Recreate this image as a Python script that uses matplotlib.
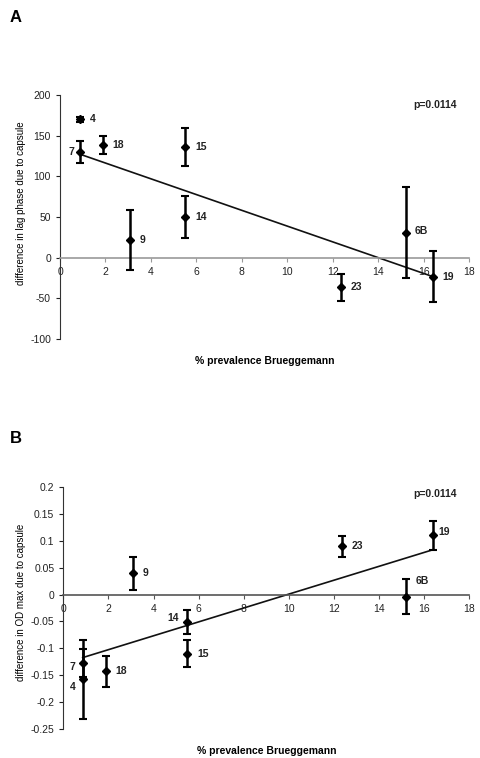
import matplotlib
matplotlib.use('Agg')
import matplotlib.pyplot as plt

plt.rcParams['font.family'] = ['Liberation Sans', 'DejaVu Sans']

# Panel A: difference in lag phase
a_labels = ['4', '7', '18', '15', '14', '9', '6B', '19', '23']
a_x = [0.87, 0.87, 1.88, 5.52, 5.52, 3.08, 15.23, 16.42, 12.38]
a_y = [170, 130.5, 138.8, 136, 49.7, 21.8, 30.8, -23.4, -36.5]
a_err = [3, 13.5, 11, 23, 26, 37, 56, 31, 17]
a_trend_x = [0.87, 16.42]
a_trend_y = [127.3, -23.4]

# Panel B: difference in OD max
b_labels = ['9', '23', '19', '6B', '14', '15', '7', '4', '18']
b_x = [3.08, 12.35, 16.38, 15.2, 5.5, 5.5, 0.86, 0.86, 1.89]
b_y = [0.039, 0.0895, 0.11, -0.004, -0.051, -0.11, -0.127, -0.157, -0.1426]
b_err = [0.03, 0.019, 0.027, 0.033, 0.023, 0.025, 0.026, 0.073, 0.029]
b_trend_x = [0.86, 16.38]
b_trend_y = [-0.117, 0.083]

# label offsets (points)
a_off = {'7': (-4, 0, 'right'), '6B': (6, 1, 'left')}
b_off = {'7': (-5, -3, 'right'), '4': (-5, -6, 'right'), '14': (-6, 3, 'right'),
         '6B': (7, 11, 'left'), '19': (4, 2, 'left')}

fig = plt.figure(figsize=(4.8, 7.58), dpi=100)


def panel(ax, xs, ys, errs, labels, tx, ty, offs, ylim, yticks, yfmt, ylabel, zero_color):
    ax.plot(tx, ty, color='#111111', lw=1.2, zorder=2)
    ax.errorbar(xs, ys, yerr=errs, fmt='D', color='black', ms=4, ecolor='black',
                elinewidth=1.8, capsize=3, capthick=1.5, zorder=3)
    for x, y, lab in zip(xs, ys, labels):
        dx, dy, ha = offs.get(lab, (7, 0, 'left'))
        ax.annotate(lab, (x, y), xytext=(dx, dy), textcoords='offset points',
                    ha=ha, va='center', fontsize=7.5, fontweight='bold', color='#222222')
    ax.set_xlim(0, 18)
    ax.set_ylim(*ylim)
    ax.set_xticks(range(0, 19, 2))
    ax.set_yticks(yticks)
    ax.set_yticklabels([yfmt(v) for v in yticks])
    ax.spines['top'].set_visible(False)
    ax.spines['right'].set_visible(False)
    ax.spines['bottom'].set_position(('data', 0))
    ax.spines['bottom'].set_color(zero_color)
    ax.spines['bottom'].set_linewidth(1.2)
    ax.spines['left'].set_color('#333333')
    ax.tick_params(axis='both', labelsize=7.5, colors='#222222', length=3, width=0.8)
    ax.tick_params(axis='x', color=zero_color, pad=4)
    ax.set_xlabel('% prevalence Brueggemann', fontsize=7.5, fontweight='bold')
    ax.xaxis.set_label_coords(0.5, -0.07)
    ax.set_ylabel(ylabel, fontsize=7)


axA = fig.add_axes([60 / 480, 1 - 339 / 758, 409 / 480, 244 / 758])
panel(axA, a_x, a_y, a_err, a_labels, a_trend_x, a_trend_y, a_off, (-100, 200),
      list(range(-100, 201, 50)), lambda v: '%d' % v,
      'difference in lag phase due to capsule', '#999999')
axA.yaxis.set_label_coords(-0.083, 0.557)
axA.text(0.97, 0.96, 'p=0.0114', transform=axA.transAxes, ha='right', va='center',
         fontsize=7.5, fontweight='bold', color='#222222')

axB = fig.add_axes([63.3 / 480, 1 - 729.3 / 758, 406 / 480, 242.6 / 758])
b_ticks = [-0.25, -0.2, -0.15, -0.1, -0.05, 0, 0.05, 0.1, 0.15, 0.2]
panel(axB, b_x, b_y, b_err, b_labels, b_trend_x, b_trend_y, b_off, (-0.25, 0.2),
      b_ticks, lambda v: '%g' % round(v, 2),
      'difference in OD max due to capsule', '#555555')
axB.yaxis.set_label_coords(-0.092, 0.523)
axB.text(0.97, 0.97, 'p=0.0114', transform=axB.transAxes, ha='right', va='center',
         fontsize=7.5, fontweight='bold', color='#222222')

fig.text(10 / 480, 1 - 17 / 758, 'A', fontsize=12, fontweight='bold', va='center')
fig.text(10 / 480, 1 - 438 / 758, 'B', fontsize=12, fontweight='bold', va='center')

fig.savefig('out.png', dpi=100)
